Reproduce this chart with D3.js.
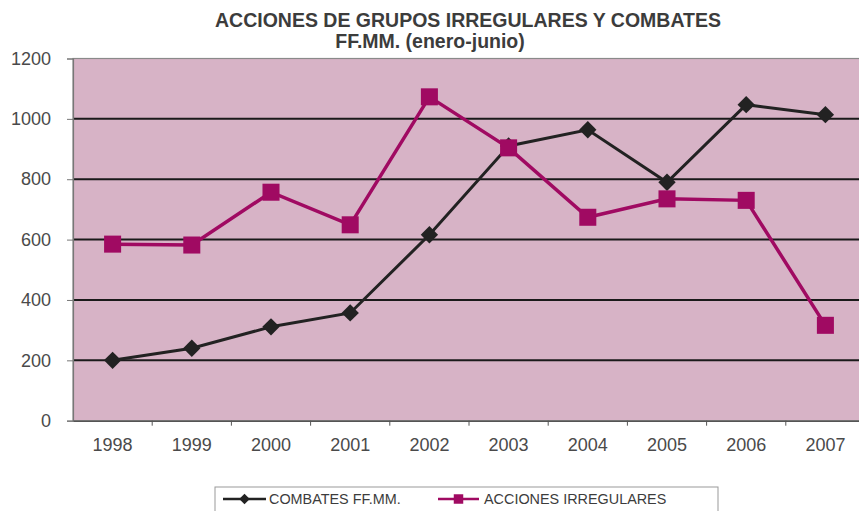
<!DOCTYPE html>
<html>
<head>
    <meta charset="UTF-8">
    <script src="https://d3js.org/d3.v7.min.js"></script>
    <style>
        body {
            margin: 0;
            background: #fff;
            font-family: "Liberation Sans", Arial, sans-serif;
        }
        .axis text {
            font-size: 18px;
            fill: #4a4a4a;
        }
        .title {
            font-size: 19.5px;
            font-weight: bold;
            fill: #3c3c3c;
        }
        .legend text {
            font-size: 14.4px;
            fill: #3c3c3c;
        }
    </style>
</head>
<body>
    <div id="chart"></div>

    <script type="text/javascript">
        // Data
        const years = ["1998", "1999", "2000", "2001", "2002", "2003", "2004", "2005", "2006", "2007"];
        const combates = [200, 240, 311, 357, 616, 910, 964, 790, 1047, 1014];
        const acciones = [585, 582, 757, 649, 1073, 904, 674, 735, 730, 316];
        const yTicks = [0, 200, 400, 600, 800, 1000, 1200];
        const seriesNames = ["COMBATES FF.MM.", "ACCIONES IRREGULARES"];

        const W = 859, H = 511;
        const plot = { left: 73, right: 865, top: 58.5, bottom: 420.7 };

        const svg = d3.select("#chart")
            .append("svg")
            .attr("width", W)
            .attr("height", H);

        // Scales
        const x = d3.scaleBand()
            .domain(years)
            .range([plot.left, plot.right]);

        const y = d3.scaleLinear()
            .domain([0, 1200])
            .range([plot.bottom, plot.top]);

        const cx = d => x(d) + x.bandwidth() / 2;

        // Plot background
        svg.append("rect")
            .attr("x", plot.left)
            .attr("y", plot.top)
            .attr("width", plot.right - plot.left)
            .attr("height", plot.bottom - plot.top)
            .attr("fill", "#d7b3c6")
            .attr("stroke", "#8a8a8a")
            .attr("stroke-width", 1.2);

        // Gridlines
        svg.append("g")
            .selectAll("line")
            .data(yTicks.filter(t => t > 0 && t < 1200))
            .join("line")
            .attr("x1", plot.left)
            .attr("x2", plot.right)
            .attr("y1", d => y(d))
            .attr("y2", d => y(d))
            .attr("stroke", "#1a1a1a")
            .attr("stroke-width", 2);

        // Y axis
        const yAxis = svg.append("g")
            .attr("class", "axis")
            .attr("transform", `translate(${plot.left},0)`)
            .call(d3.axisLeft(y).tickValues(yTicks).tickSize(6).tickPadding(16).tickFormat(d3.format("d")));
        yAxis.select(".domain").attr("stroke", "#777").attr("stroke-width", 1.2);
        yAxis.selectAll(".tick line").attr("stroke", "#777");

        // X axis (ticks between categories)
        const xAxis = svg.append("g")
            .attr("class", "axis")
            .attr("transform", `translate(0,${plot.bottom})`)
            .call(d3.axisBottom(x).tickSize(0).tickPadding(18));
        xAxis.select(".domain").attr("stroke", "#555").attr("stroke-width", 1.5);

        xAxis.selectAll(".sep")
            .data(years.slice(1))
            .join("line")
            .attr("class", "sep")
            .attr("x1", d => x(d))
            .attr("x2", d => x(d))
            .attr("y1", 0)
            .attr("y2", 5)
            .attr("stroke", "#555");

        // Lines
        const line = d3.line()
            .x((d, i) => cx(years[i]))
            .y(d => y(d));

        const diamond = d3.symbol().type(d3.symbolSquare).size(150);
        const square = d3.symbol().type(d3.symbolSquare).size(290);

        svg.append("path")
            .datum(combates)
            .attr("fill", "none")
            .attr("stroke", "#222")
            .attr("stroke-width", 3)
            .attr("d", line);

        svg.append("g")
            .selectAll("path")
            .data(combates)
            .join("path")
            .attr("d", diamond)
            .attr("fill", "#222")
            .attr("transform", (d, i) => `translate(${cx(years[i])},${y(d)}) rotate(45)`);

        svg.append("path")
            .datum(acciones)
            .attr("fill", "none")
            .attr("stroke", "#a00a62")
            .attr("stroke-width", 3.5)
            .attr("d", line);

        svg.append("g")
            .selectAll("path")
            .data(acciones)
            .join("path")
            .attr("d", square)
            .attr("fill", "#a00a62")
            .attr("transform", (d, i) => `translate(${cx(years[i])},${y(d)})`);

        // Title
        svg.append("text")
            .attr("class", "title")
            .attr("x", 468)
            .attr("y", 27)
            .attr("text-anchor", "middle")
            .text("ACCIONES DE GRUPOS IRREGULARES Y COMBATES");

        svg.append("text")
            .attr("class", "title")
            .attr("x", 430)
            .attr("y", 48)
            .attr("text-anchor", "middle")
            .text("FF.MM. (enero-junio)");

        // Legend
        const legend = svg.append("g").attr("class", "legend");

        legend.append("rect")
            .attr("x", 215)
            .attr("y", 487)
            .attr("width", 503)
            .attr("height", 34)
            .attr("fill", "#fff")
            .attr("stroke", "#999")
            .attr("stroke-width", 1);

        legend.append("line")
            .attr("x1", 223).attr("x2", 266)
            .attr("y1", 499).attr("y2", 499)
            .attr("stroke", "#222").attr("stroke-width", 2.5);
        legend.append("path")
            .attr("d", d3.symbol().type(d3.symbolSquare).size(55))
            .attr("fill", "#222")
            .attr("transform", "translate(244.5,499) rotate(45)");
        legend.append("text")
            .attr("x", 269).attr("y", 504)
            .text(seriesNames[0]);

        legend.append("line")
            .attr("x1", 438).attr("x2", 479)
            .attr("y1", 499).attr("y2", 499)
            .attr("stroke", "#a00a62").attr("stroke-width", 2.5);
        legend.append("path")
            .attr("d", d3.symbol().type(d3.symbolSquare).size(90))
            .attr("fill", "#a00a62")
            .attr("transform", "translate(458.5,499)");
        legend.append("text")
            .attr("x", 484).attr("y", 504)
            .text(seriesNames[1]);
    </script>
</body>
</html>
